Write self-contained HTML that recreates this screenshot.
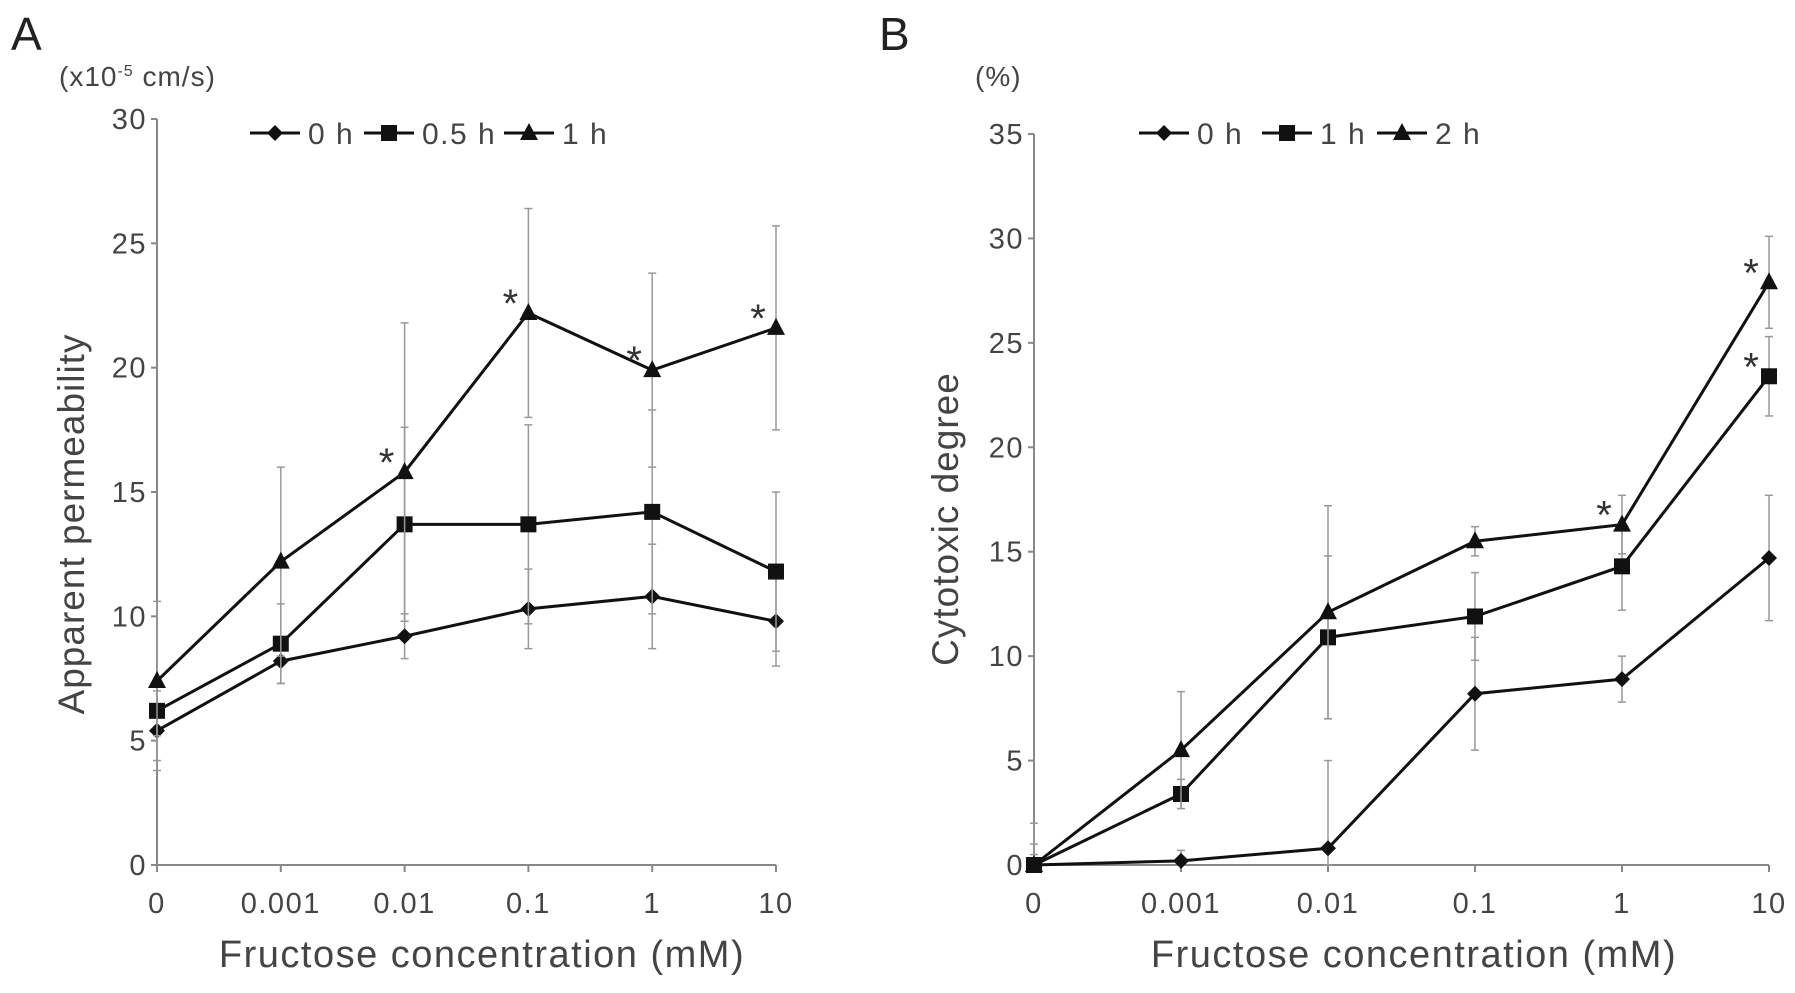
<!DOCTYPE html>
<html><head><meta charset="utf-8"><style>
html,body{margin:0;padding:0;background:#fff;}
svg{display:block;font-family:"Liberation Sans",Arial,sans-serif;}
</style></head><body>
<svg id="chart" width="1795" height="993" viewBox="0 0 1795 993" xmlns="http://www.w3.org/2000/svg">
<g id="root"></g>
</svg>
<script>
const categories = ["0","0.001","0.01","0.1","1","10"];
const aTicks = [0,5,10,15,20,25,30];
const a0 = [5.4,8.2,9.2,10.3,10.8,9.8];
const a0err = [1.6,0.9,0.9,1.6,2.1,1.8];
const a05 = [6.2,8.9,13.7,13.7,14.2,11.8];
const a05err = [1.0,1.6,3.9,4.0,4.1,3.2];
const a1 = [7.4,12.2,15.8,22.2,19.9,21.6];
const a1err = [3.2,3.8,6.0,4.2,3.9,4.1];
const aStars = [false,false,true,true,true,true];
const bTicks = [0,5,10,15,20,25,30,35];
const b0 = [0,0.2,0.8,8.2,8.9,14.7];
const b0err = [2.0,0.5,4.2,2.7,1.1,3.0];
const b1 = [0,3.4,10.9,11.9,14.3,23.4];
const b1err = [1.0,0.7,3.9,2.1,2.1,1.9];
const b2 = [0,5.5,12.1,15.5,16.3,27.9];
const b2err = [0.5,2.8,5.1,0.7,1.4,2.2];
const bStars2 = [false,false,false,false,true,true];
const bStars1 = [false,false,false,false,false,true];

const NS="http://www.w3.org/2000/svg";
const root=document.getElementById('root');
function mk(tag,attrs,parent,text){const e=document.createElementNS(NS,tag);for(const k in attrs)e.setAttribute(k,attrs[k]);if(text!==undefined)e.textContent=text;(parent||root).appendChild(e);return e;}

function marker(g,type,x,y){
  let m;
  if(type==='d'){m=mk('polygon',{points:`${x},${y-8} ${x+8},${y} ${x},${y+8} ${x-8},${y}`,fill:'#111'},g);}
  else if(type==='s'){m=mk('rect',{x:x-8,y:y-8,width:16,height:16,fill:'#111'},g);}
  else {m=mk('polygon',{points:`${x},${y-10} ${x+9},${y+7} ${x-9},${y+7}`,fill:'#111'},g);}
  
  
}

function panel(cfg){
  const g=mk('g',{});
  
  
  const xs=i=>cfg.x0+i*(cfg.x1-cfg.x0)/(categories.length-1);
  const ys=v=>cfg.y0-v*(cfg.y0-cfg.yTop)/cfg.ymax;
  const ax=mk('line',{x1:cfg.x0,y1:ys(cfg.ymax),x2:cfg.x0,y2:cfg.y0,stroke:'#888','stroke-width':2},g);
  
  const axx=mk('line',{x1:cfg.x0,y1:cfg.y0,x2:cfg.x1,y2:cfg.y0,stroke:'#888','stroke-width':2},g);
  
  cfg.ticks.forEach(t=>{
    mk('line',{x1:cfg.x0-6,y1:ys(t),x2:cfg.x0,y2:ys(t),stroke:'#888','stroke-width':2},g);
    const tl=mk('text',{x:cfg.x0-10,y:ys(t)+10,'text-anchor':'end','font-size':29,'letter-spacing':1.5,fill:'#444'},g,String(t));
    
  });
  categories.forEach((c,i)=>{
    mk('line',{x1:xs(i),y1:cfg.y0,x2:xs(i),y2:cfg.y0+7,stroke:'#888','stroke-width':2},g);
    const tl=mk('text',{x:xs(i),y:cfg.y0+48,'text-anchor':'middle','font-size':29,'letter-spacing':1.5,fill:'#444'},g,c);
    
  });
  cfg.series.forEach(s=>{
    const sg=mk('g',{},g);
    
    
    s.vals.forEach((v,i)=>{
      const x=xs(i);
      mk('line',{x1:x,y1:ys(v+s.err[i]),x2:x,y2:ys(Math.max(0,v-s.err[i])),stroke:'#999','stroke-width':1.5},sg);
      mk('line',{x1:x-4,y1:ys(v+s.err[i]),x2:x+4,y2:ys(v+s.err[i]),stroke:'#999','stroke-width':1.5},sg);
      mk('line',{x1:x-4,y1:ys(Math.max(0,v-s.err[i])),x2:x+4,y2:ys(Math.max(0,v-s.err[i])),stroke:'#999','stroke-width':1.5},sg);
    });
    mk('polyline',{points:s.vals.map((v,i)=>xs(i)+','+ys(v)).join(' '),fill:'none',stroke:'#111','stroke-width':3},sg);
    s.vals.forEach((v,i)=>marker(sg,s.type,xs(i),ys(v)));
    if(s.stars) s.stars.forEach((st,i)=>{ if(st){
      const t=mk('text',{x:xs(i)-18,y:ys(s.vals[i])+4,'text-anchor':'middle','font-size':40,fill:'#333'},sg,'*');
      
    }});
  });
  cfg.legend.forEach(l=>{
    const lg=mk('g',{},g);
    
    
    mk('line',{x1:l.x-25,y1:cfg.ly,x2:l.x+25,y2:cfg.ly,stroke:'#111','stroke-width':3},lg);
    marker(lg,l.type,l.x,cfg.ly);
    mk('text',{x:l.x+33,y:cfg.ly+11,'font-size':30,'letter-spacing':1.5,fill:'#444'},lg,l.label);
  });
  const pl=mk('text',{x:cfg.letterX,y:50,'font-size':46,fill:'#222'},g,cfg.letter);
  
  const yt=mk('text',{transform:`translate(${cfg.ytX},${cfg.ytY}) rotate(-90)`,'text-anchor':'middle','font-size':37,'letter-spacing':1,fill:'#444'},g,cfg.ytitle);
  
  const xt=mk('text',{x:cfg.xtX,y:967,'text-anchor':'middle','font-size':38,'letter-spacing':1.5,fill:'#444'},g,'Fructose concentration (mM)');
  
  return {g,ys};
}

const A=panel({name:'panel-a',x0:157,x1:776,y0:865,yTop:119,ymax:30,ticks:aTicks,
  series:[{label:'0 h',vals:a0,err:a0err,type:'d'},{label:'0.5 h',vals:a05,err:a05err,type:'s'},{label:'1 h',vals:a1,err:a1err,type:'t',stars:aStars}],
  legend:[{x:275,type:'d',label:'0 h'},{x:389,type:'s',label:'0.5 h'},{x:529,type:'t',label:'1 h'}],ly:133,
  letter:'A',letterX:11,ytitle:'Apparent permeability',ytX:84,ytY:524,xtX:482});
const ua=mk('text',{x:59,y:86,'font-size':28,'letter-spacing':1,fill:'#444'},A.g);

ua.innerHTML='(x10<tspan dy="-10" font-size="16">-5</tspan><tspan dy="10"> cm/s)</tspan>';

const B=panel({name:'panel-b',x0:1034,x1:1769,y0:865,yTop:134,ymax:35,ticks:bTicks,
  series:[{label:'0 h',vals:b0,err:b0err,type:'d'},{label:'1 h',vals:b1,err:b1err,type:'s',stars:bStars1},{label:'2 h',vals:b2,err:b2err,type:'t',stars:bStars2}],
  legend:[{x:1164,type:'d',label:'0 h'},{x:1287,type:'s',label:'1 h'},{x:1402,type:'t',label:'2 h'}],ly:133,
  letter:'B',letterX:879,ytitle:'Cytotoxic degree',ytX:958,ytY:519,xtX:1414});
const ub=mk('text',{x:975,y:86,'font-size':28,'letter-spacing':1,fill:'#444'},B.g,'(%)');

</script>
</body></html>
